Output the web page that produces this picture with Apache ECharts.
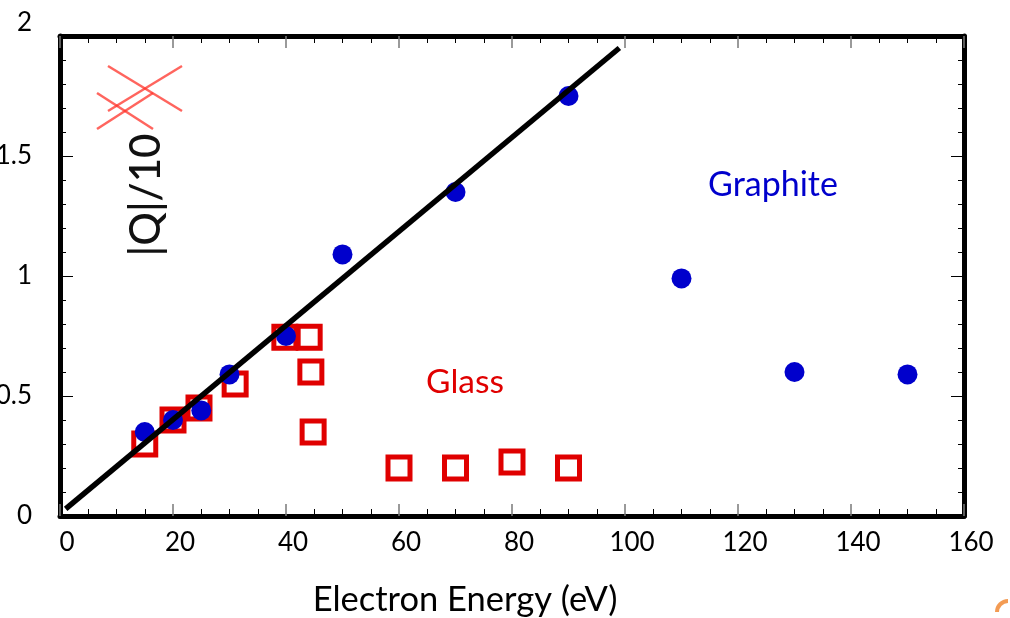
<!DOCTYPE html>
<html><head><meta charset="utf-8">
<script src="https://cdn.jsdelivr.net/npm/echarts@6/dist/echarts.min.js"></script>
<style>html,body{margin:0;padding:0;background:#fff}#c{width:1010px;height:618px}</style>
</head><body><div id="c"></div>
<script>
// Data
const graphiteEnergy = [15, 20, 25, 30, 40, 50, 70, 90, 110, 130, 150];
const graphiteQ      = [0.35, 0.40, 0.44, 0.59, 0.75, 1.09, 1.35, 1.75, 0.99, 0.60, 0.59];
const glassEnergy    = [15, 20, 24.6, 31, 39.8, 44.1, 44.4, 44.8, 60, 70, 80, 90];
const glassQ         = [0.30, 0.40, 0.45, 0.55, 0.745, 0.745, 0.60, 0.35, 0.20, 0.20, 0.225, 0.20];
const fitEnergy      = [1, 99];
const fitQ           = [0.03, 1.95];
const xRange = [0, 160];
const yRange = [0, 2];

const FONT = 'Lato';
const pair = (xs, ys) => xs.map((x, i) => [x, ys[i]]);

const chart = echarts.init(document.getElementById('c'), null, {renderer: 'canvas'});

const axisLineStyle = {show: true, onZero: false, lineStyle: {color: '#000', width: 5}};

const xBase = {
  type: 'value', min: xRange[0], max: xRange[1], interval: 20,
  axisLine: axisLineStyle,
  axisTick: {show: true, inside: true, length: 12, lineStyle: {color: '#7a7a7a', width: 1.5}},
  minorTick: {show: true, splitNumber: 4, length: 7, lineStyle: {color: '#000', width: 1}},
  splitLine: {show: false}, minorSplitLine: {show: false}
};
const yBase = {
  type: 'value', min: yRange[0], max: yRange[1], interval: 0.5,
  axisLine: axisLineStyle,
  axisTick: {show: true, inside: true, length: 13, lineStyle: {color: '#000', width: 1}},
  minorTick: {show: true, splitNumber: 5, length: 6, lineStyle: {color: '#000', width: 1}},
  splitLine: {show: false}, minorSplitLine: {show: false}
};

chart.setOption({
  animation: false,
  backgroundColor: '#fff',
  grid: {left: 60, right: 46, top: 36, bottom: 102, containLabel: false, outerBoundsMode: 'none'},
  xAxis: [
    Object.assign({}, xBase, {
      position: 'bottom',
      axisLabel: {show: true, fontFamily: FONT, fontSize: 26, color: '#000', margin: 14, padding: [0, 0, 0, 14]}
    }),
    Object.assign({}, xBase, {position: 'top', axisLabel: {show: false}})
  ],
  yAxis: [
    Object.assign({}, yBase, {
      position: 'left',
      axisLabel: {
        show: true, fontFamily: FONT, fontSize: 26, color: '#000', margin: 28,
        formatter: v => v === 2 ? '{t|2}' : String(v),
        rich: {t: {fontFamily: FONT, fontSize: 26, color: '#000', padding: [0, 0, 26, 0]}}
      }
    }),
    Object.assign({}, yBase, {position: 'right', axisLabel: {show: false}})
  ],
  series: [
    {
      name: 'Glass', type: 'scatter', xAxisIndex: 0, yAxisIndex: 0,
      data: pair(glassEnergy, glassQ),
      symbol: 'rect', symbolSize: 22, z: 2,
      itemStyle: {color: 'rgba(255,255,255,0)', borderColor: '#e00000', borderWidth: 5, opacity: 1}
    },
    {
      name: 'Graphite', type: 'scatter', xAxisIndex: 0, yAxisIndex: 0,
      data: pair(graphiteEnergy, graphiteQ),
      symbol: 'circle', symbolSize: 20, z: 3,
      itemStyle: {color: '#0000cc', opacity: 1}
    },
    {
      name: 'Fit', type: 'line', xAxisIndex: 0, yAxisIndex: 0,
      data: pair(fitEnergy, fitQ),
      showSymbol: false, symbol: 'none', z: 4,
      lineStyle: {color: '#000', width: 5.5}
    }
  ],
  graphic: [
    {type: 'text', x: 465, y: 600, z: 10,
      style: {text: 'Electron Energy (eV)', fontFamily: FONT, fontSize: 34.5, fill: '#000', textAlign: 'center', textVerticalAlign: 'middle'}},
    {type: 'text', x: 146, y: 195, rotation: Math.PI / 2, z: 10,
      style: {text: '|Q|/10', fontFamily: FONT, fontSize: 42, fontWeight: 500, fill: '#111', textAlign: 'center', textVerticalAlign: 'middle'}},
    {type: 'text', x: 465, y: 382, z: 10,
      style: {text: 'Glass', fontFamily: FONT, fontSize: 33.5, fill: '#e00000', textAlign: 'center', textVerticalAlign: 'middle'}},
    {type: 'text', x: 773, y: 185, z: 10,
      style: {text: 'Graphite', fontFamily: FONT, fontSize: 34, fill: '#0000cc', textAlign: 'center', textVerticalAlign: 'middle'}},
    {type: 'line', z: 11, shape: {x1: 108, y1: 66, x2: 182, y2: 111}, style: {stroke: 'rgba(255,50,40,0.75)', lineWidth: 2.5}},
    {type: 'line', z: 11, shape: {x1: 182, y1: 66, x2: 108, y2: 111}, style: {stroke: 'rgba(255,50,40,0.75)', lineWidth: 2.5}},
    {type: 'line', z: 11, shape: {x1: 97, y1: 93, x2: 153, y2: 129}, style: {stroke: 'rgba(255,50,40,0.75)', lineWidth: 2.5}},
    {type: 'line', z: 11, shape: {x1: 97, y1: 129, x2: 153, y2: 93}, style: {stroke: 'rgba(255,50,40,0.75)', lineWidth: 2.5}},
    {type: 'arc', z: 11, shape: {cx: 1008, cy: 612, r: 11, startAngle: Math.PI, endAngle: Math.PI * 1.5}, style: {stroke: 'rgba(240,130,40,0.8)', lineWidth: 4, fill: null}}
  ]
});
</script></body></html>
